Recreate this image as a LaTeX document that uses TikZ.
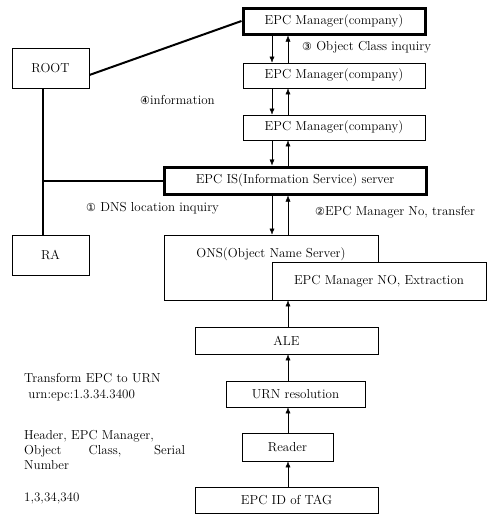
\documentclass[tikz,border=0pt]{standalone}
\usepackage{fontspec}
\newfontfamily\circfont{DejaVu Sans}
\usetikzlibrary{arrows.meta}
\tikzset{
  box/.style={draw, line width=0.8pt, fill=white, inner sep=0pt, font=\fontsize{13}{15}\selectfont},
  heavybox/.style={box, line width=3pt},
  link/.style={line width=2pt},
  note/.style={inner sep=0pt, font=\fontsize{13}{15}\selectfont},
}
\newcommand{\stepno}[1]{{\circfont\fontsize{11}{13}\selectfont #1}}
\begin{document}
\begin{tikzpicture}[x=1pt, y=-1pt, >={Latex[length=6pt,width=5pt]}]
\useasboundingbox (0,0) rectangle (499,514);
% manager chain
\node[heavybox, minimum width=182pt, minimum height=26pt] (mgrA) at (334,21) {EPC Manager(company)};
\node[box, minimum width=182pt, minimum height=25pt] (mgrB) at (334,75.5) {EPC Manager(company)};
\node[box, minimum width=182pt, minimum height=25pt] (mgrC) at (334,127.5) {EPC Manager(company)};
\node[heavybox, minimum width=262pt, minimum height=27pt] (epcis) at (295,180.5) {EPC IS(Information Service) server};
\node[box, minimum width=77pt, minimum height=40pt] (root) at (50.5,68) {ROOT};
\node[box, minimum width=77pt, minimum height=40pt] (ra) at (50.5,255) {RA};
% ons with the extraction step on top of it
\node[box, minimum width=214pt, minimum height=65pt] (ons) at (271,267.5) {};
\node[note] (onstext) at (271,254) {ONS(Object Name Server)};
\node[box, minimum width=214pt, minimum height=38pt] (extract) at (379,281) {EPC Manager NO, Extraction};
% reader side
\node[box, minimum width=183pt, minimum height=27pt] (ale) at (286.5,340.5) {ALE};
\node[box, minimum width=139pt, minimum height=26pt] (urn) at (295.5,394) {URN resolution};
\node[box, minimum width=91pt, minimum height=28pt] (reader) at (287.5,447) {Reader};
\node[box, minimum width=183pt, minimum height=26pt] (tag) at (286.5,500) {EPC ID of TAG};

\coordinate (dn) at (272,0);
\coordinate (up) at (288,0);
\coordinate (trunk) at (43,0);

% lines from the root
\draw[link] ([yshift=-7pt]root.east) -- (mgrA.west);
\draw[link] (root.south -| trunk) -- (ra.north -| trunk);
\draw[link] (epcis.west -| trunk) -- (epcis.west);

% inquiry / answer pairs
\foreach \a/\b in {mgrA/mgrB, mgrB/mgrC, mgrC/epcis, epcis/ons} {
  \draw[->] (\a.south -| dn) -- (\b.north -| dn);
  \draw[->] (\b.north -| up) -- (\a.south -| up);
}
\foreach \a/\b in {tag/reader, reader/urn, urn/ale, ale/extract}
  \draw[->] (\a.north -| up) -- (\b.south -| up);

% step labels
\node[note, anchor=west] (step3) at (302,47) {\stepno{③} Object Class inquiry};
\node[note, anchor=west] (step4) at (140,100) {\stepno{④}information};
\node[note, anchor=west] (step1) at (86,208) {\stepno{①} DNS location inquiry};
\node[note, anchor=west] (step2) at (315,212) {\stepno{②}EPC Manager No, transfer};

% notes on the left
\node[note, anchor=north west, align=left] (urnnote) at (24,373) {Transform EPC to URN\\[1pt] \ urn:epc:1.3.34.3400};
\node[note, anchor=north west, align=left] (fields) at (24,430) {Header, EPC Manager,\\ \makebox[161pt][s]{Object Class, Serial}\\ Number\\[17pt] 1,3,34,340};
\end{tikzpicture}
\end{document}
